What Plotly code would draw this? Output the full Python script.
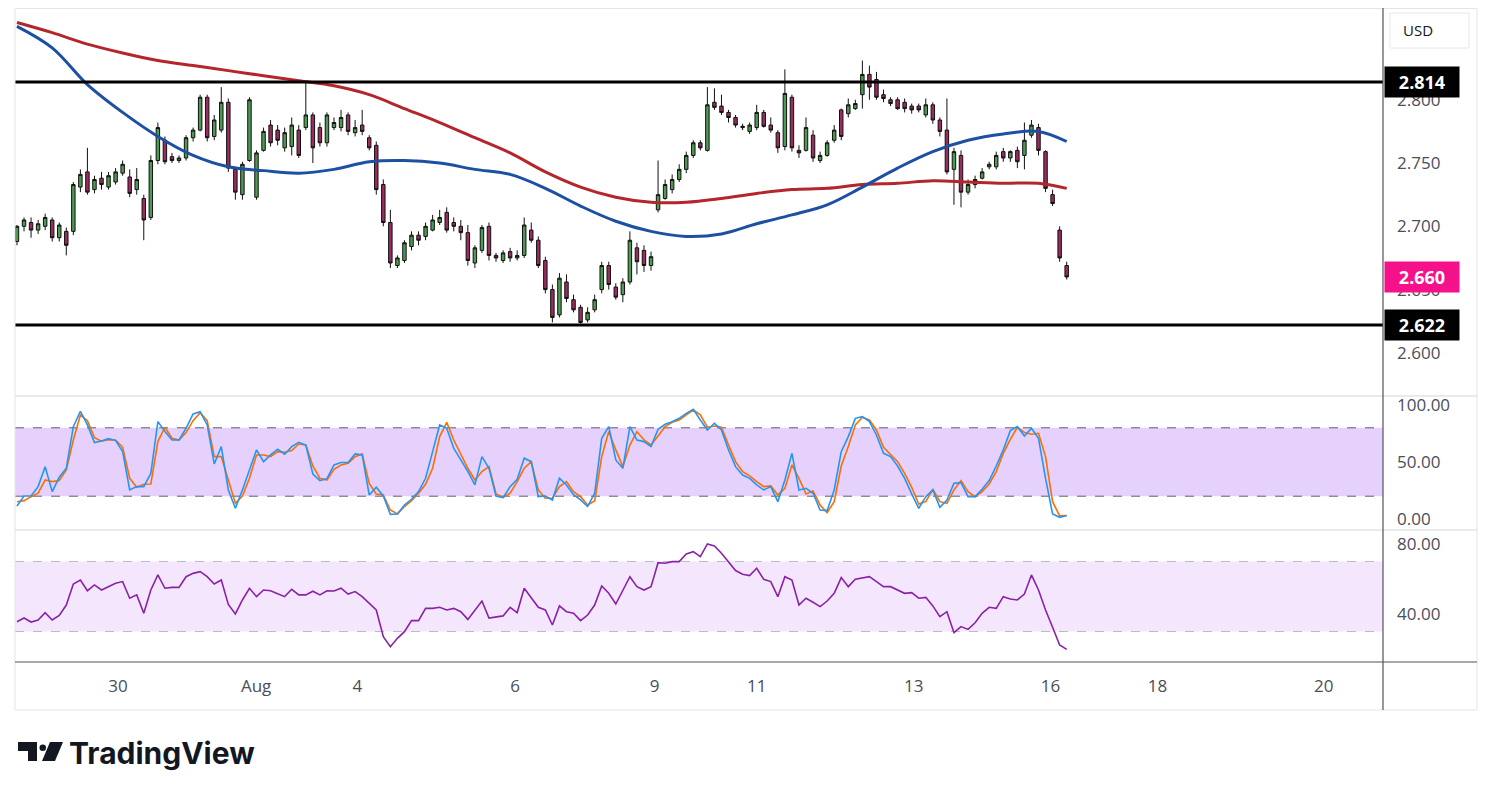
import plotly.graph_objects as go

# page body adds 8px margin around the figure
PAD = 8
W, H = 1491 - 2 * PAD, 800 - 2 * PAD

# ---- price candles (one bar per session slot) ----
opens = [2.688, 2.700, 2.703, 2.697, 2.700, 2.705, 2.691, 2.696, 2.696, 2.731,
         2.743, 2.729, 2.738, 2.731, 2.735, 2.742, 2.739, 2.729, 2.722, 2.707,
         2.752, 2.768, 2.755, 2.752, 2.754, 2.770, 2.776, 2.802, 2.771, 2.776,
         2.798, 2.745, 2.725, 2.752, 2.723, 2.760, 2.780, 2.776, 2.762, 2.763,
         2.776, 2.778, 2.788, 2.778, 2.766, 2.778, 2.778, 2.788, 2.774, 2.780,
         2.770, 2.764, 2.733, 2.703, 2.669, 2.673, 2.684, 2.693, 2.692, 2.697,
         2.703, 2.711, 2.703, 2.700, 2.695, 2.671, 2.681, 2.700, 2.677, 2.673,
         2.680, 2.675, 2.677, 2.697, 2.689, 2.673, 2.650, 2.630, 2.656, 2.642,
         2.636, 2.626, 2.634, 2.650, 2.669, 2.652, 2.646, 2.656, 2.683, 2.681,
         2.669, 2.713, 2.722, 2.729, 2.737, 2.745, 2.756, 2.766, 2.760, 2.798,
         2.795, 2.790, 2.786, 2.778, 2.775, 2.778, 2.790, 2.780, 2.774, 2.763,
         2.802, 2.760, 2.760, 2.772, 2.752, 2.756, 2.768, 2.792, 2.789, 2.793,
         2.804, 2.820, 2.816, 2.804, 2.800, 2.800, 2.798, 2.795, 2.795, 2.788,
         2.796, 2.784, 2.776, 2.745, 2.756, 2.727, 2.733, 2.738, 2.747, 2.747,
         2.759, 2.754, 2.760, 2.756, 2.772, 2.778, 2.759, 2.725, 2.697, 2.669]
highs = [2.701, 2.707, 2.707, 2.705, 2.710, 2.707, 2.703, 2.699, 2.735, 2.745,
         2.762, 2.740, 2.743, 2.743, 2.746, 2.752, 2.745, 2.746, 2.725, 2.756,
         2.782, 2.771, 2.758, 2.756, 2.772, 2.778, 2.804, 2.804, 2.788, 2.810,
         2.801, 2.746, 2.751, 2.802, 2.760, 2.778, 2.784, 2.780, 2.778, 2.786,
         2.780, 2.814, 2.790, 2.782, 2.790, 2.786, 2.792, 2.790, 2.784, 2.792,
         2.772, 2.767, 2.737, 2.713, 2.677, 2.689, 2.696, 2.696, 2.703, 2.709,
         2.713, 2.715, 2.707, 2.705, 2.701, 2.685, 2.701, 2.703, 2.679, 2.681,
         2.683, 2.681, 2.707, 2.703, 2.692, 2.676, 2.654, 2.663, 2.662, 2.646,
         2.638, 2.636, 2.646, 2.672, 2.672, 2.655, 2.659, 2.696, 2.687, 2.685,
         2.680, 2.752, 2.737, 2.741, 2.749, 2.759, 2.768, 2.768, 2.810, 2.809,
         2.804, 2.792, 2.788, 2.781, 2.782, 2.796, 2.792, 2.786, 2.776, 2.824,
         2.804, 2.764, 2.786, 2.776, 2.759, 2.768, 2.780, 2.793, 2.801, 2.800,
         2.831, 2.827, 2.822, 2.808, 2.802, 2.802, 2.801, 2.797, 2.797, 2.801,
         2.798, 2.786, 2.801, 2.762, 2.760, 2.737, 2.740, 2.746, 2.751, 2.759,
         2.762, 2.760, 2.763, 2.782, 2.784, 2.781, 2.760, 2.729, 2.700, 2.672]
lows = [2.685, 2.696, 2.691, 2.694, 2.697, 2.688, 2.688, 2.677, 2.693, 2.727,
        2.725, 2.726, 2.729, 2.729, 2.733, 2.740, 2.723, 2.725, 2.689, 2.705,
        2.749, 2.749, 2.750, 2.750, 2.752, 2.767, 2.775, 2.767, 2.768, 2.774,
        2.743, 2.721, 2.721, 2.751, 2.721, 2.759, 2.763, 2.764, 2.759, 2.756,
        2.754, 2.776, 2.750, 2.763, 2.763, 2.776, 2.775, 2.772, 2.771, 2.772,
        2.760, 2.725, 2.700, 2.667, 2.667, 2.671, 2.681, 2.685, 2.689, 2.696,
        2.701, 2.695, 2.696, 2.689, 2.669, 2.667, 2.679, 2.673, 2.672, 2.671,
        2.672, 2.673, 2.675, 2.687, 2.667, 2.647, 2.624, 2.628, 2.640, 2.632,
        2.623, 2.624, 2.632, 2.647, 2.650, 2.642, 2.640, 2.654, 2.662, 2.664,
        2.665, 2.711, 2.721, 2.726, 2.735, 2.742, 2.754, 2.760, 2.759, 2.792,
        2.788, 2.782, 2.778, 2.776, 2.773, 2.776, 2.778, 2.774, 2.758, 2.760,
        2.759, 2.754, 2.759, 2.751, 2.750, 2.755, 2.766, 2.768, 2.786, 2.792,
        2.793, 2.800, 2.800, 2.798, 2.795, 2.792, 2.790, 2.789, 2.790, 2.786,
        2.781, 2.771, 2.741, 2.717, 2.715, 2.725, 2.730, 2.737, 2.745, 2.745,
        2.751, 2.751, 2.746, 2.745, 2.770, 2.756, 2.727, 2.716, 2.672, 2.658]
closes = [2.700, 2.705, 2.697, 2.702, 2.707, 2.691, 2.701, 2.685, 2.733, 2.741,
          2.727, 2.737, 2.733, 2.740, 2.743, 2.749, 2.726, 2.737, 2.705, 2.752,
          2.778, 2.751, 2.752, 2.754, 2.770, 2.776, 2.802, 2.770, 2.784, 2.798,
          2.746, 2.727, 2.749, 2.800, 2.758, 2.775, 2.766, 2.768, 2.774, 2.780,
          2.756, 2.788, 2.762, 2.766, 2.788, 2.782, 2.786, 2.775, 2.778, 2.775,
          2.762, 2.729, 2.703, 2.671, 2.675, 2.687, 2.693, 2.689, 2.700, 2.705,
          2.707, 2.697, 2.700, 2.695, 2.673, 2.683, 2.699, 2.677, 2.675, 2.679,
          2.675, 2.677, 2.701, 2.689, 2.669, 2.650, 2.628, 2.659, 2.643, 2.634,
          2.624, 2.632, 2.642, 2.669, 2.654, 2.644, 2.656, 2.689, 2.672, 2.669,
          2.676, 2.725, 2.733, 2.737, 2.745, 2.756, 2.766, 2.762, 2.796, 2.794,
          2.790, 2.786, 2.780, 2.779, 2.780, 2.790, 2.779, 2.776, 2.762, 2.805,
          2.762, 2.758, 2.778, 2.754, 2.756, 2.766, 2.776, 2.771, 2.796, 2.797,
          2.820, 2.810, 2.802, 2.801, 2.797, 2.793, 2.793, 2.792, 2.792, 2.796,
          2.784, 2.775, 2.743, 2.759, 2.727, 2.733, 2.737, 2.743, 2.749, 2.756,
          2.754, 2.759, 2.751, 2.768, 2.780, 2.760, 2.730, 2.718, 2.675, 2.660]

# ---- moving averages, sampled every 5 bars ----
ma_index = [0, 5, 10, 15, 20, 25, 30, 35, 40, 45, 50, 55, 60, 65, 70, 75,
            80, 85, 90, 95, 100, 105, 110, 115, 120, 125, 130, 135, 140, 145, 149]
ma_blue = [2.858, 2.841, 2.812, 2.790, 2.771, 2.756, 2.747, 2.744, 2.742, 2.745,
           2.751, 2.752, 2.750, 2.745, 2.741, 2.730, 2.716, 2.704, 2.696, 2.692,
           2.694, 2.702, 2.709, 2.717, 2.731, 2.746, 2.759, 2.768, 2.773, 2.775, 2.767]
ma_red = [2.861, 2.853, 2.844, 2.837, 2.831, 2.827, 2.823, 2.819, 2.815, 2.811,
          2.804, 2.793, 2.782, 2.770, 2.758, 2.743, 2.731, 2.723, 2.719, 2.719,
          2.722, 2.726, 2.729, 2.730, 2.733, 2.734, 2.736, 2.735, 2.734, 2.734, 2.730]

# ---- stochastic RSI ----
stoch_k = [11.4, 20.2, 20.2, 28.4, 45.9, 24.0, 36.6, 44.5, 81.0, 94.5,
           82.5, 67.0, 68.5, 70.5, 68.8, 59.1, 25.5, 28.4, 28.4, 40.1,
           85.4, 76.7, 69.3, 69.3, 79.6, 92.1, 94.2, 82.5, 48.3, 63.5,
           25.5, 9.4, 25.5, 43.0, 60.6, 50.3, 56.2, 61.2, 56.8, 63.5,
           67.3, 64.9, 39.5, 33.7, 35.4, 47.4, 49.5, 49.5, 57.1, 56.2,
           21.1, 27.8, 20.2, 4.1, 4.4, 12.3, 17.3, 24.0, 35.7, 59.1,
           82.5, 79.6, 62.0, 51.8, 41.6, 29.9, 54.7, 44.5, 20.2, 18.8,
           28.4, 34.8, 53.3, 50.3, 19.6, 20.2, 16.7, 35.7, 29.9, 21.4,
           16.7, 10.9, 22.6, 70.8, 81.0, 51.8, 44.5, 81.0, 69.3, 67.9,
           63.5, 78.7, 83.1, 85.4, 88.3, 92.7, 96.2, 86.9, 78.1, 84.0,
           78.1, 60.6, 45.9, 38.6, 35.7, 29.9, 25.5, 28.4, 15.2, 34.2,
           57.6, 25.5, 26.9, 22.6, 7.9, 7.4, 25.5, 59.1, 72.3, 88.3,
           89.8, 85.4, 73.7, 57.6, 54.7, 46.5, 35.7, 22.0, 9.4, 19.6,
           25.5, 10.3, 16.7, 31.3, 31.9, 19.6, 19.6, 26.1, 33.7, 46.5,
           60.6, 77.5, 81.0, 72.8, 79.6, 70.8, 35.7, 4.4, 1.5, 3.0]
stoch_d = [15.2, 16.1, 19.6, 22.6, 34.2, 32.8, 33.7, 43.0, 69.3, 91.3,
           86.3, 71.4, 68.2, 69.6, 69.3, 62.9, 35.7, 27.8, 30.5, 30.7,
           67.9, 80.5, 70.8, 69.3, 75.8, 86.3, 93.3, 86.3, 54.7, 54.7,
           34.2, 13.8, 20.2, 35.7, 56.2, 56.2, 54.7, 59.1, 58.5, 60.0,
           65.8, 64.9, 46.5, 35.7, 34.2, 43.6, 47.4, 48.9, 54.7, 57.1,
           31.3, 22.0, 21.1, 7.9, 4.4, 10.9, 16.1, 22.6, 30.5, 44.5,
           72.3, 84.8, 69.3, 57.1, 44.5, 34.2, 41.6, 45.9, 22.0, 19.1,
           22.6, 32.8, 44.5, 50.3, 25.5, 18.2, 18.2, 28.4, 32.8, 24.0,
           19.6, 12.3, 15.8, 54.7, 76.7, 60.6, 45.9, 64.9, 76.7, 69.3,
           64.9, 72.8, 81.0, 84.8, 86.9, 91.3, 95.6, 91.3, 80.5, 81.6,
           80.5, 64.9, 50.3, 41.6, 37.8, 32.8, 28.4, 29.0, 21.1, 26.9,
           47.4, 35.7, 22.0, 24.6, 12.3, 5.6, 15.2, 46.5, 63.5, 82.5,
           89.2, 86.9, 78.1, 62.9, 56.2, 50.3, 40.1, 27.8, 13.2, 15.2,
           26.1, 15.2, 13.8, 25.5, 33.7, 24.0, 19.6, 24.0, 30.7, 41.6,
           57.6, 69.9, 80.5, 75.8, 74.3, 75.2, 54.7, 15.2, 2.7, 3.0]

# ---- RSI ----
rsi = [35.6, 37.7, 35.4, 36.6, 40.8, 36.6, 39.2, 45.1, 57.1, 59.4,
       53.3, 56.6, 53.7, 55.6, 57.5, 58.5, 49.0, 50.9, 40.4, 53.7,
       62.3, 54.7, 55.2, 55.2, 61.3, 63.2, 64.2, 61.3, 57.1, 59.4,
       45.5, 40.0, 48.0, 54.7, 49.9, 53.7, 53.3, 51.6, 49.9, 54.1,
       50.9, 50.9, 53.0, 50.9, 53.3, 53.1, 54.7, 51.4, 52.8, 49.9,
       46.1, 42.3, 27.0, 21.3, 26.1, 29.9, 36.2, 36.2, 43.2, 43.2,
       43.8, 42.3, 43.2, 41.3, 36.9, 42.3, 47.4, 37.7, 38.1, 38.9,
       43.8, 40.8, 54.7, 49.5, 43.8, 42.3, 33.7, 44.6, 41.3, 40.4,
       36.2, 39.4, 45.1, 56.0, 51.8, 45.7, 53.7, 61.3, 55.6, 53.7,
       55.6, 69.3, 69.0, 69.9, 69.9, 74.3, 75.6, 72.8, 80.0, 78.9,
       74.7, 69.9, 64.8, 62.7, 61.9, 66.1, 59.8, 58.5, 49.9, 61.3,
       59.4, 45.1, 49.0, 46.7, 44.2, 47.4, 51.8, 60.8, 55.6, 59.8,
       60.4, 61.3, 58.5, 55.6, 55.6, 53.7, 51.8, 52.2, 49.0, 49.5,
       44.6, 38.5, 41.3, 29.3, 32.8, 31.2, 35.0, 40.4, 43.8, 43.2,
       49.9, 48.6, 48.0, 51.4, 62.3, 53.7, 42.3, 32.4, 22.3, 19.8]

resistance = 2.814
support = 2.622
last_price = 2.660

date_ticks = [14.35, 33.95, 48.3, 70.7, 90.5, 105.0, 127.3, 146.7, 161.9, 185.5]
date_labels = ["30", "Aug", "4", "6", "9", "11", "13", "16", "18", "20"]

price_ticks = [2.600, 2.650, 2.700, 2.750, 2.800]
stoch_ticks = [0, 50, 100]
rsi_ticks = [40, 80]

bars = list(range(len(closes)))


# screenshot pixel -> paper coords
def px(x):
    return (x - PAD) / W


def py(y):
    return min(1.0, 1 - (y - PAD) / H)


FONT = "Open Sans"
TXT = "#4a4e59"

fig = go.Figure()

fig.add_trace(go.Candlestick(
    x=bars, open=opens, high=highs, low=lows, close=closes,
    increasing=dict(line=dict(color="#111111", width=1), fillcolor="#4f9a52"),
    decreasing=dict(line=dict(color="#111111", width=1), fillcolor="#9a2d60"),
    whiskerwidth=0, xaxis="x", yaxis="y", showlegend=False, hoverinfo="skip",
))
fig.add_trace(go.Scatter(x=ma_index, y=ma_red, mode="lines", line=dict(color="#b3262b", width=3, shape="spline"),
                         xaxis="x", yaxis="y", showlegend=False))
fig.add_trace(go.Scatter(x=ma_index, y=ma_blue, mode="lines", line=dict(color="#1d4fa3", width=3, shape="spline"),
                         xaxis="x", yaxis="y", showlegend=False))

fig.add_trace(go.Scatter(x=bars, y=stoch_d, mode="lines", line=dict(color="#ff6d00", width=1.6),
                         xaxis="x2", yaxis="y2", showlegend=False))
fig.add_trace(go.Scatter(x=bars, y=stoch_k, mode="lines", line=dict(color="#2196f3", width=1.6),
                         xaxis="x2", yaxis="y2", showlegend=False))

fig.add_trace(go.Scatter(x=bars, y=rsi, mode="lines", line=dict(color="#8a22a6", width=1.6),
                         xaxis="x3", yaxis="y3", showlegend=False))

xdom = [px(15), px(1383)]
xrange_ = [-0.28, 193.9]
common_x = dict(domain=xdom, range=xrange_, showgrid=False, zeroline=False, showline=False,
                ticks="", automargin=False, fixedrange=True)
ycommon = dict(side="right", showgrid=False, zeroline=False, showline=False, ticks="",
               automargin=False, ticklabelstandoff=13,
               tickfont=dict(family=FONT, size=17, color=TXT))

fig.update_layout(
    width=W, height=H,
    margin=dict(l=0, r=0, t=0, b=0),
    paper_bgcolor="white", plot_bgcolor="white",
    xaxis=dict(common_x, anchor="y", showticklabels=False, rangeslider=dict(visible=False)),
    xaxis2=dict(common_x, anchor="y2", matches="x", showticklabels=False),
    xaxis3=dict(common_x, anchor="y3", matches="x", tickmode="array", tickvals=date_ticks,
                ticktext=date_labels, ticklabelstandoff=12,
                tickfont=dict(family=FONT, size=17, color=TXT)),
    yaxis=dict(ycommon, domain=[py(395), py(8)], range=[2.5667, 2.8725],
               tickmode="array", tickvals=price_ticks, tickformat=".3f", anchor="x"),
    yaxis2=dict(ycommon, domain=[py(530), py(396)], range=[-9.65, 107.9],
                tickmode="array", tickvals=stoch_ticks, tickformat=".2f", anchor="x2"),
    yaxis3=dict(ycommon, domain=[py(662), py(531)], range=[12.57, 87.4],
                tickmode="array", tickvals=rsi_ticks, tickformat=".2f", anchor="x3"),
    showlegend=False,
    hovermode=False,
)

shapes = []
# indicator bands
shapes.append(dict(type="rect", xref="x2 domain", yref="y2", x0=0, x1=1, y0=20, y1=80,
                   fillcolor="#e6d1fc", line=dict(width=0), layer="below"))
for lvl in (20, 80):
    shapes.append(dict(type="line", xref="x2 domain", yref="y2", x0=0, x1=1, y0=lvl, y1=lvl,
                       line=dict(color="#5d606b", width=1, dash="dash"), layer="below"))
shapes.append(dict(type="rect", xref="x3 domain", yref="y3", x0=0, x1=1, y0=30, y1=70,
                   fillcolor="#f4e7fd", line=dict(width=0), layer="below"))
for lvl in (30, 70):
    shapes.append(dict(type="line", xref="x3 domain", yref="y3", x0=0, x1=1, y0=lvl, y1=lvl,
                       line=dict(color="#b9bcc4", width=1, dash="dash"), layer="below"))
# support / resistance
for lvl in (resistance, support):
    shapes.append(dict(type="line", xref="x domain", yref="y", x0=0, x1=1, y0=lvl, y1=lvl,
                       line=dict(color="#000000", width=3)))
# frame and separators
shapes.append(dict(type="rect", xref="paper", yref="paper", x0=px(15), x1=px(1477), y0=py(710), y1=py(8.5),
                   line=dict(color="#e3e5ea", width=1)))
for yy in (396, 530):
    shapes.append(dict(type="line", xref="paper", yref="paper", x0=px(15), x1=px(1477), y0=py(yy), y1=py(yy),
                       line=dict(color="#e0e3eb", width=1.5)))
shapes.append(dict(type="line", xref="paper", yref="paper", x0=px(15), x1=px(1477), y0=py(662), y1=py(662),
                   line=dict(color="#50535e", width=1.2)))
shapes.append(dict(type="line", xref="paper", yref="paper", x0=px(1383), x1=px(1383), y0=py(710), y1=py(8),
                   line=dict(color="#50535e", width=1.2)))
# USD box
shapes.append(dict(type="rect", xref="paper", yref="paper", x0=px(1390), x1=px(1469), y0=py(48), y1=py(13),
                   line=dict(color="#e6e8ee", width=1), fillcolor="white"))
# TradingView mark
shapes.append(dict(type="path", xref="paper", yref="paper",
                   path=f"M {px(18)},{py(742)} L {px(37)},{py(742)} L {px(37)},{py(761)} "
                        f"L {px(28)},{py(761)} L {px(28)},{py(751)} L {px(18)},{py(751)} Z",
                   fillcolor="#131722", line=dict(width=0)))
shapes.append(dict(type="circle", xref="paper", yref="paper", x0=px(39.5), x1=px(46), y0=py(751), y1=py(744.5),
                   fillcolor="#131722", line=dict(width=0)))
shapes.append(dict(type="path", xref="paper", yref="paper",
                   path=f"M {px(50)},{py(742)} L {px(63)},{py(742)} L {px(55)},{py(761)} L {px(42)},{py(761)} Z",
                   fillcolor="#131722", line=dict(width=0)))
fig.update_layout(shapes=shapes)

annotations = [
    dict(xref="paper", yref="paper", x=px(1418), y=py(30), text="USD", showarrow=False,
         font=dict(family=FONT, size=15, color="#131722"), xanchor="center", yanchor="middle"),
    dict(xref="paper", yref="paper", x=px(67), y=py(753), text="<b>TradingView</b>", showarrow=False,
         font=dict(family="Inter", size=30, color="#131722"), xanchor="left", yanchor="middle"),
]
for val, col in ((resistance, "#000000"), (last_price, "#f5118a"), (support, "#000000")):
    annotations.append(dict(xref="paper", yref="y", x=px(1384), y=val, text=f"<b>{val:.3f}</b>",
                            showarrow=False, xanchor="left", yanchor="middle", align="center",
                            width=70, height=26, bgcolor=col, borderpad=2,
                            font=dict(family=FONT, size=18, color="white")))
fig.update_layout(annotations=annotations)

fig.write_html("out.html")
